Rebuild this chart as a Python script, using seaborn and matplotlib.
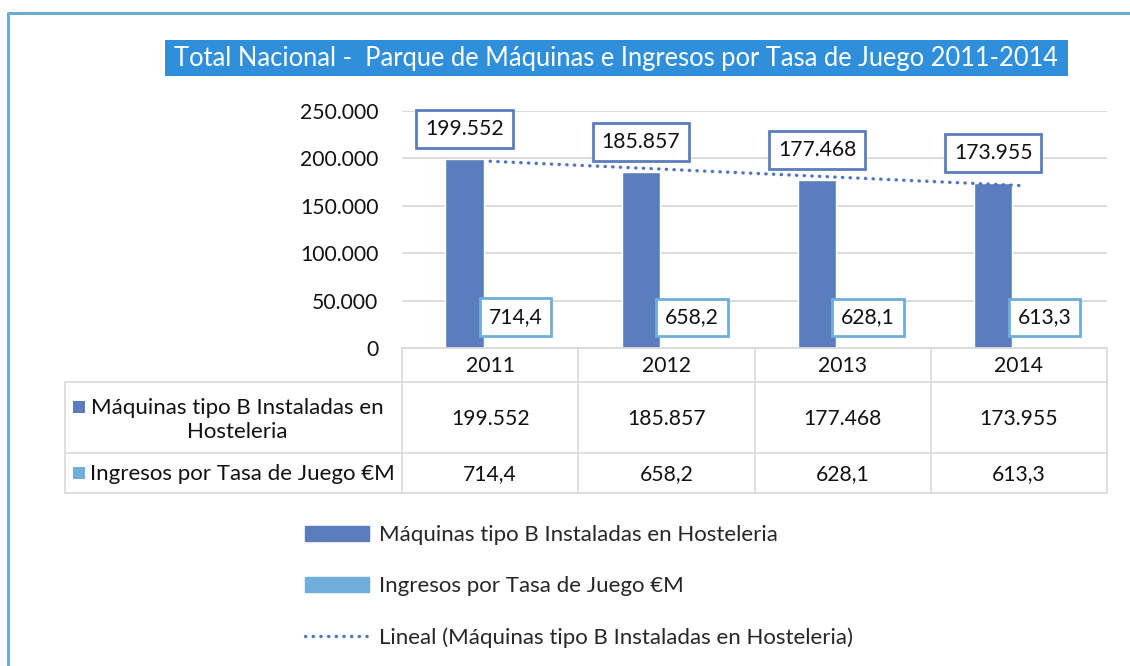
import numpy as np
import pandas as pd
import matplotlib
matplotlib.use('Agg')
import matplotlib.pyplot as plt
import seaborn as sns
from matplotlib.patches import Rectangle, Patch
from matplotlib.lines import Line2D

# ---------------- data ----------------
years = ['2011', '2012', '2013', '2014']
maquinas = [199552, 185857, 177468, 173955]
ingresos = [714.4, 658.2, 628.1, 613.3]
series_names = ['Máquinas tipo B Instaladas en Hosteleria', 'Ingresos por Tasa de Juego €M']
row_headers = ['Máquinas tipo B Instaladas en\nHosteleria', 'Ingresos por Tasa de Juego €M']
trend_name = 'Lineal (Máquinas tipo B Instaladas en Hosteleria)'
title = 'Total Nacional -  Parque de Máquinas e Ingresos por Tasa de Juego 2011-2014'
yticks = [0, 50000, 100000, 150000, 200000, 250000]


def fmt_int(v):
    return f'{v:,.0f}'.replace(',', '.')


def fmt_dec(v):
    return f'{v:.1f}'.replace('.', ',')


# ---------------- style ----------------
sns.set_theme(style='white')
plt.rcParams['font.family'] = ['Lato', 'DejaVu Sans']
C1 = '#5B7DBE'
C2 = '#6FAEDB'
CTREND = '#4F74BE'
GRID = '#D9D9D9'
TXT = '#111111'
FSN = 15.2   # numbers
FST = 16.0   # words

W, H = 1130, 666
fig = plt.figure(figsize=(W / 100, H / 100), dpi=100)
bg = fig.add_axes([0, 0, 1, 1], zorder=0)
bg.set_xlim(0, W)
bg.set_ylim(H, 0)
bg.axis('off')

# outer border (left + top)
bg.plot([8, 8, W], [H, 13, 13], color='#6AAED6', lw=2.2, solid_capstyle='butt')

# title box
bg.add_patch(Rectangle((165, 40), 903, 36, color='#2F8FDB', lw=0))
bg.text(616.5, 58.5, title, color='white', fontsize=18.4, ha='center', va='center')

# ---------------- main chart ----------------
x0, x1, y0, y1 = 402, 1107, 111, 348
ax = fig.add_axes([x0 / W, 1 - y1 / H, (x1 - x0) / W, (y1 - y0) / H], zorder=1)
ax.patch.set_alpha(0)

df = pd.DataFrame({
    'year': years * 2,
    'serie': [series_names[0]] * len(years) + [series_names[1]] * len(years),
    'valor': maquinas + ingresos,
})
sns.barplot(data=df, x='year', y='valor', hue='serie', palette=[C1, C2],
            width=0.58, gap=0.25, saturation=1, legend=False, ax=ax, zorder=2)

ax.set_xlim(-0.5, len(years) - 0.5)
ax.set_ylim(0, 250000)
ax.set_yticks(yticks)
ax.set_yticklabels([fmt_int(v) for v in yticks], fontsize=FSN, color=TXT)
ax.yaxis.grid(True, color=GRID, lw=1.3, zorder=0)
ax.set_axisbelow(True)
ax.tick_params(axis='y', length=0, pad=17)
ax.set_xticks(range(len(years)))
ax.set_xticklabels(years, fontsize=FSN, color=TXT)
ax.tick_params(axis='x', length=0, pad=6)
ax.set_xlabel('')
ax.set_ylabel('')
for s in ['left', 'right', 'top']:
    ax.spines[s].set_visible(False)
ax.spines['bottom'].set_color(GRID)
ax.spines['bottom'].set_linewidth(1.3)

# data labels
for bar, v in zip(ax.containers[0], maquinas):
    ax.annotate(fmt_int(v), (bar.get_x() + bar.get_width() / 2, bar.get_height()),
                xytext=(0, 30), textcoords='offset pixels', ha='center', va='center',
                fontsize=FSN, color=TXT,
                bbox=dict(boxstyle='square,pad=0.42', fc='white', ec=C1, lw=2))
for bar, v in zip(ax.containers[1], ingresos):
    ax.annotate(fmt_dec(v), (bar.get_x() + bar.get_width() / 2, bar.get_height()),
                xytext=(0, 30), textcoords='offset pixels', ha='center', va='center',
                fontsize=FSN, color=TXT,
                bbox=dict(boxstyle='square,pad=0.42', fc='white', ec=C2, lw=2))

# linear trendline
xs = np.arange(len(years))
coef = np.polyfit(xs, maquinas, 1)
ax.plot(xs, np.polyval(coef, xs), color=CTREND, lw=2.4, ls=(0, (0.1, 2.2)),
        dash_capstyle='round', zorder=3)

# ---------------- data table ----------------
cat_w = (x1 - x0) / len(years)
bounds = [x0 + i * cat_w for i in range(len(years) + 1)]
for bx in bounds:
    bg.plot([bx, bx], [y1, 493], color=GRID, lw=1.2)
bg.plot([65, 65], [382, 493], color=GRID, lw=1.2)
for hy in [382, 453, 493]:
    bg.plot([65, x1], [hy, hy], color=GRID, lw=1.2)

for i in range(len(years)):
    cx = x0 + (i + 0.5) * cat_w
    bg.text(cx, 419, fmt_int(maquinas[i]), fontsize=FSN, color=TXT, ha='center', va='center')
    bg.text(cx, 474, fmt_dec(ingresos[i]), fontsize=FSN, color=TXT, ha='center', va='center')

bg.add_patch(Rectangle((73, 401), 12, 12, color=C1, lw=0))
bg.text(237, 420, row_headers[0], fontsize=FST, color=TXT, ha='center', va='center',
        multialignment='center', linespacing=1.25)
bg.add_patch(Rectangle((73, 467), 12, 12, color=C2, lw=0))
bg.text(90, 474, row_headers[1], fontsize=FST, color=TXT, ha='left', va='center')

# ---------------- legend ----------------
handles = [Patch(color=C1), Patch(color=C2),
           Line2D([], [], color=CTREND, lw=2.4, ls=(0, (0.1, 2.2)), dash_capstyle='round')]
fig.legend(handles, [series_names[0], series_names[1], trend_name],
           loc='upper left', bbox_to_anchor=(305 / W, 1 - 525 / H),
           frameon=False, fontsize=FST, handlelength=2.88, handleheight=0.68,
           handletextpad=0.45, labelspacing=1.40, borderpad=0, borderaxespad=0)

fig.savefig('out.png', dpi=100)
